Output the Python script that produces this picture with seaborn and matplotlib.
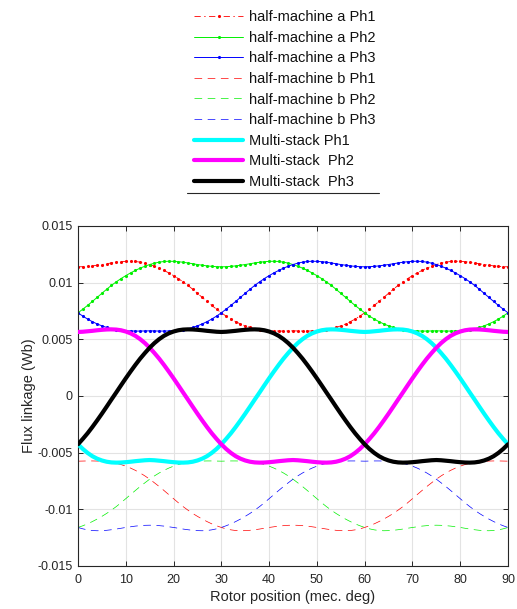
import numpy as np
import matplotlib
matplotlib.use("Agg")
import matplotlib.pyplot as plt
import seaborn as sns
from matplotlib.lines import Line2D

# ---------------- data ----------------
rotor_deg = np.arange(0, 91, 1)

half_a_ph1 = [
    0.01140, 0.01141, 0.01144, 0.01148, 0.01154, 0.01160, 0.01167, 0.01174, 0.01180, 0.01185,
    0.01188, 0.01189, 0.01187, 0.01181, 0.01172, 0.01160, 0.01145, 0.01128, 0.01108, 0.01086,
    0.01062, 0.01036, 0.01007, 0.00976, 0.00942, 0.00906, 0.00870, 0.00834, 0.00799, 0.00766,
    0.00734, 0.00705, 0.00679, 0.00656, 0.00636, 0.00619, 0.00605, 0.00594, 0.00586, 0.00580,
    0.00576, 0.00574, 0.00573, 0.00573, 0.00574, 0.00575, 0.00574, 0.00573, 0.00573, 0.00574,
    0.00576, 0.00580, 0.00586, 0.00594, 0.00605, 0.00619, 0.00636, 0.00656, 0.00679, 0.00705,
    0.00734, 0.00766, 0.00799, 0.00834, 0.00870, 0.00906, 0.00942, 0.00976, 0.01007, 0.01036,
    0.01062, 0.01086, 0.01108, 0.01128, 0.01145, 0.01160, 0.01172, 0.01181, 0.01187, 0.01189,
    0.01188, 0.01185, 0.01180, 0.01174, 0.01167, 0.01160, 0.01154, 0.01148, 0.01144, 0.01141,
    0.01140]

half_a_ph2 = [
    0.00734, 0.00766, 0.00799, 0.00834, 0.00870, 0.00906, 0.00942, 0.00976, 0.01007, 0.01036,
    0.01062, 0.01086, 0.01108, 0.01128, 0.01145, 0.01160, 0.01172, 0.01181, 0.01187, 0.01189,
    0.01188, 0.01185, 0.01180, 0.01174, 0.01167, 0.01160, 0.01154, 0.01148, 0.01144, 0.01141,
    0.01140, 0.01141, 0.01144, 0.01148, 0.01154, 0.01160, 0.01167, 0.01174, 0.01180, 0.01185,
    0.01188, 0.01189, 0.01187, 0.01181, 0.01172, 0.01160, 0.01145, 0.01128, 0.01108, 0.01086,
    0.01062, 0.01036, 0.01007, 0.00976, 0.00942, 0.00906, 0.00870, 0.00834, 0.00799, 0.00766,
    0.00734, 0.00705, 0.00679, 0.00656, 0.00636, 0.00619, 0.00605, 0.00594, 0.00586, 0.00580,
    0.00576, 0.00574, 0.00573, 0.00573, 0.00574, 0.00575, 0.00574, 0.00573, 0.00573, 0.00574,
    0.00576, 0.00580, 0.00586, 0.00594, 0.00605, 0.00619, 0.00636, 0.00656, 0.00679, 0.00705,
    0.00734]

half_a_ph3 = [
    0.00734, 0.00705, 0.00679, 0.00656, 0.00636, 0.00619, 0.00605, 0.00594, 0.00586, 0.00580,
    0.00576, 0.00574, 0.00573, 0.00573, 0.00574, 0.00575, 0.00574, 0.00573, 0.00573, 0.00574,
    0.00576, 0.00580, 0.00586, 0.00594, 0.00605, 0.00619, 0.00636, 0.00656, 0.00679, 0.00705,
    0.00734, 0.00766, 0.00799, 0.00834, 0.00870, 0.00906, 0.00942, 0.00976, 0.01007, 0.01036,
    0.01062, 0.01086, 0.01108, 0.01128, 0.01145, 0.01160, 0.01172, 0.01181, 0.01187, 0.01189,
    0.01188, 0.01185, 0.01180, 0.01174, 0.01167, 0.01160, 0.01154, 0.01148, 0.01144, 0.01141,
    0.01140, 0.01141, 0.01144, 0.01148, 0.01154, 0.01160, 0.01167, 0.01174, 0.01180, 0.01185,
    0.01188, 0.01189, 0.01187, 0.01181, 0.01172, 0.01160, 0.01145, 0.01128, 0.01108, 0.01086,
    0.01062, 0.01036, 0.01007, 0.00976, 0.00942, 0.00906, 0.00870, 0.00834, 0.00799, 0.00766,
    0.00734]

half_b_ph1 = [
    -0.00575, -0.00574, -0.00573, -0.00573, -0.00574, -0.00576, -0.00580, -0.00586, -0.00594, -0.00605,
    -0.00619, -0.00636, -0.00656, -0.00679, -0.00705, -0.00734, -0.00766, -0.00799, -0.00834, -0.00870,
    -0.00906, -0.00942, -0.00976, -0.01007, -0.01036, -0.01062, -0.01086, -0.01108, -0.01128, -0.01145,
    -0.01160, -0.01172, -0.01181, -0.01187, -0.01189, -0.01188, -0.01185, -0.01180, -0.01174, -0.01167,
    -0.01160, -0.01154, -0.01148, -0.01144, -0.01141, -0.01140, -0.01141, -0.01144, -0.01148, -0.01154,
    -0.01160, -0.01167, -0.01174, -0.01180, -0.01185, -0.01188, -0.01189, -0.01187, -0.01181, -0.01172,
    -0.01160, -0.01145, -0.01128, -0.01108, -0.01086, -0.01062, -0.01036, -0.01007, -0.00976, -0.00942,
    -0.00906, -0.00870, -0.00834, -0.00799, -0.00766, -0.00734, -0.00705, -0.00679, -0.00656, -0.00636,
    -0.00619, -0.00605, -0.00594, -0.00586, -0.00580, -0.00576, -0.00574, -0.00573, -0.00573, -0.00574,
    -0.00575]

half_b_ph2 = [
    -0.01160, -0.01145, -0.01128, -0.01108, -0.01086, -0.01062, -0.01036, -0.01007, -0.00976, -0.00942,
    -0.00906, -0.00870, -0.00834, -0.00799, -0.00766, -0.00734, -0.00705, -0.00679, -0.00656, -0.00636,
    -0.00619, -0.00605, -0.00594, -0.00586, -0.00580, -0.00576, -0.00574, -0.00573, -0.00573, -0.00574,
    -0.00575, -0.00574, -0.00573, -0.00573, -0.00574, -0.00576, -0.00580, -0.00586, -0.00594, -0.00605,
    -0.00619, -0.00636, -0.00656, -0.00679, -0.00705, -0.00734, -0.00766, -0.00799, -0.00834, -0.00870,
    -0.00906, -0.00942, -0.00976, -0.01007, -0.01036, -0.01062, -0.01086, -0.01108, -0.01128, -0.01145,
    -0.01160, -0.01172, -0.01181, -0.01187, -0.01189, -0.01188, -0.01185, -0.01180, -0.01174, -0.01167,
    -0.01160, -0.01154, -0.01148, -0.01144, -0.01141, -0.01140, -0.01141, -0.01144, -0.01148, -0.01154,
    -0.01160, -0.01167, -0.01174, -0.01180, -0.01185, -0.01188, -0.01189, -0.01187, -0.01181, -0.01172,
    -0.01160]

half_b_ph3 = [
    -0.01160, -0.01172, -0.01181, -0.01187, -0.01189, -0.01188, -0.01185, -0.01180, -0.01174, -0.01167,
    -0.01160, -0.01154, -0.01148, -0.01144, -0.01141, -0.01140, -0.01141, -0.01144, -0.01148, -0.01154,
    -0.01160, -0.01167, -0.01174, -0.01180, -0.01185, -0.01188, -0.01189, -0.01187, -0.01181, -0.01172,
    -0.01160, -0.01145, -0.01128, -0.01108, -0.01086, -0.01062, -0.01036, -0.01007, -0.00976, -0.00942,
    -0.00906, -0.00870, -0.00834, -0.00799, -0.00766, -0.00734, -0.00705, -0.00679, -0.00656, -0.00636,
    -0.00619, -0.00605, -0.00594, -0.00586, -0.00580, -0.00576, -0.00574, -0.00573, -0.00573, -0.00574,
    -0.00575, -0.00574, -0.00573, -0.00573, -0.00574, -0.00576, -0.00580, -0.00586, -0.00594, -0.00605,
    -0.00619, -0.00636, -0.00656, -0.00679, -0.00705, -0.00734, -0.00766, -0.00799, -0.00834, -0.00870,
    -0.00906, -0.00942, -0.00976, -0.01007, -0.01036, -0.01062, -0.01086, -0.01108, -0.01128, -0.01145,
    -0.01160]

multi_ph1 = [
    -0.00426, -0.00467, -0.00502, -0.00531, -0.00553, -0.00569, -0.00580, -0.00586, -0.00588, -0.00587,
    -0.00584, -0.00580, -0.00575, -0.00571, -0.00567, -0.00565, -0.00567, -0.00571, -0.00575, -0.00580,
    -0.00584, -0.00587, -0.00588, -0.00586, -0.00580, -0.00569, -0.00553, -0.00531, -0.00502, -0.00467,
    -0.00426, -0.00379, -0.00329, -0.00274, -0.00216, -0.00156, -0.00094, -0.00031, 0.00031, 0.00094,
    0.00156, 0.00216, 0.00274, 0.00329, 0.00379, 0.00426, 0.00467, 0.00502, 0.00531, 0.00553,
    0.00569, 0.00580, 0.00586, 0.00588, 0.00587, 0.00584, 0.00580, 0.00575, 0.00571, 0.00567,
    0.00565, 0.00567, 0.00571, 0.00575, 0.00580, 0.00584, 0.00587, 0.00588, 0.00586, 0.00580,
    0.00569, 0.00553, 0.00531, 0.00502, 0.00467, 0.00426, 0.00379, 0.00329, 0.00274, 0.00216,
    0.00156, 0.00094, 0.00031, -0.00031, -0.00094, -0.00156, -0.00216, -0.00274, -0.00329, -0.00379,
    -0.00426]

multi_ph2 = [
    0.00565, 0.00567, 0.00571, 0.00575, 0.00580, 0.00584, 0.00587, 0.00588, 0.00586, 0.00580,
    0.00569, 0.00553, 0.00531, 0.00502, 0.00467, 0.00426, 0.00379, 0.00329, 0.00274, 0.00216,
    0.00156, 0.00094, 0.00031, -0.00031, -0.00094, -0.00156, -0.00216, -0.00274, -0.00329, -0.00379,
    -0.00426, -0.00467, -0.00502, -0.00531, -0.00553, -0.00569, -0.00580, -0.00586, -0.00588, -0.00587,
    -0.00584, -0.00580, -0.00575, -0.00571, -0.00567, -0.00565, -0.00567, -0.00571, -0.00575, -0.00580,
    -0.00584, -0.00587, -0.00588, -0.00586, -0.00580, -0.00569, -0.00553, -0.00531, -0.00502, -0.00467,
    -0.00426, -0.00379, -0.00329, -0.00274, -0.00216, -0.00156, -0.00094, -0.00031, 0.00031, 0.00094,
    0.00156, 0.00216, 0.00274, 0.00329, 0.00379, 0.00426, 0.00467, 0.00502, 0.00531, 0.00553,
    0.00569, 0.00580, 0.00586, 0.00588, 0.00587, 0.00584, 0.00580, 0.00575, 0.00571, 0.00567,
    0.00565]

multi_ph3 = [
    -0.00426, -0.00379, -0.00329, -0.00274, -0.00216, -0.00156, -0.00094, -0.00031, 0.00031, 0.00094,
    0.00156, 0.00216, 0.00274, 0.00329, 0.00379, 0.00426, 0.00467, 0.00502, 0.00531, 0.00553,
    0.00569, 0.00580, 0.00586, 0.00588, 0.00587, 0.00584, 0.00580, 0.00575, 0.00571, 0.00567,
    0.00565, 0.00567, 0.00571, 0.00575, 0.00580, 0.00584, 0.00587, 0.00588, 0.00586, 0.00580,
    0.00569, 0.00553, 0.00531, 0.00502, 0.00467, 0.00426, 0.00379, 0.00329, 0.00274, 0.00216,
    0.00156, 0.00094, 0.00031, -0.00031, -0.00094, -0.00156, -0.00216, -0.00274, -0.00329, -0.00379,
    -0.00426, -0.00467, -0.00502, -0.00531, -0.00553, -0.00569, -0.00580, -0.00586, -0.00588, -0.00587,
    -0.00584, -0.00580, -0.00575, -0.00571, -0.00567, -0.00565, -0.00567, -0.00571, -0.00575, -0.00580,
    -0.00584, -0.00587, -0.00588, -0.00586, -0.00580, -0.00569, -0.00553, -0.00531, -0.00502, -0.00467,
    -0.00426]

series_labels = [
    "half-machine a Ph1", "half-machine a Ph2", "half-machine a Ph3",
    "half-machine b Ph1", "half-machine b Ph2", "half-machine b Ph3",
    "Multi-stack Ph1", "Multi-stack  Ph2", "Multi-stack  Ph3",
]
x_ticks = [0, 10, 20, 30, 40, 50, 60, 70, 80, 90]
y_ticks = [-0.015, -0.01, -0.005, 0, 0.005, 0.01, 0.015]
y_tick_labels = ["-0.015", "-0.01", "-0.005", "0", "0.005", "0.01", "0.015"]

# ---------------- style ----------------
sns.set_theme(style="ticks")
plt.rcParams['font.family'] = ['Liberation Sans', 'DejaVu Sans']
plt.rcParams['lines.scale_dashes'] = False

AX_COLOR = "#262626"

fig = plt.figure(figsize=(5.17, 6.09), dpi=100)
ax = fig.add_axes([78 / 517, 1 - 566 / 609, 430 / 517, 340 / 609])

all_series = [half_a_ph1, half_a_ph2, half_a_ph3,
              half_b_ph1, half_b_ph2, half_b_ph3,
              multi_ph1, multi_ph2, multi_ph3]

styles = [
    dict(color="#ff0000", lw=0.6, ls=(0, (4.5, 2.5, 1, 2.5)), marker="."),
    dict(color="#00f000", lw=0.7, ls="-", marker="."),
    dict(color="#0000ff", lw=0.7, ls="-", marker="."),
    dict(color="#ff0000", lw=0.5, ls=(0, (5.5, 4)), marker=None),
    dict(color="#00f000", lw=0.5, ls=(0, (5.5, 4)), marker=None),
    dict(color="#0000ff", lw=0.5, ls=(0, (5.5, 4)), marker=None),
    dict(color="#00ffff", lw=3.0, ls="-", marker=None),
    dict(color="#ff00ff", lw=3.0, ls="-", marker=None),
    dict(color="#000000", lw=3.0, ls="-", marker=None),
]

for i, (vals, lab, st) in enumerate(zip(all_series, series_labels, styles)):
    kw = dict(x=rotor_deg, y=vals, ax=ax, color=st["color"], linewidth=st["lw"],
              linestyle=st["ls"], label=lab, zorder=2 + i * 0.1)
    if st["marker"]:
        kw.update(marker=st["marker"], markersize=4.5,
                  markeredgecolor=st["color"], markeredgewidth=0)
    sns.lineplot(**kw)

ax.set_xlim(0, 90)
ax.set_ylim(-0.015, 0.015)
ax.set_xticks(x_ticks)
ax.set_xticklabels([str(t) for t in x_ticks])
ax.set_yticks(y_ticks)
ax.set_yticklabels(y_tick_labels)

ax.grid(True, color="#e3e3e3", linewidth=0.8)
ax.set_axisbelow(True)
for sp in ax.spines.values():
    sp.set_visible(True)
    sp.set_color(AX_COLOR)
    sp.set_linewidth(0.8)
ax.tick_params(axis="both", direction="in", length=3.5, width=0.7,
               colors=AX_COLOR, labelsize=9, top=True, right=True)
ax.tick_params(axis="x", pad=6)
ax.tick_params(axis="y", pad=4)

ax.set_xlabel("Rotor position (mec. deg)", fontsize=10.5, color=AX_COLOR)
ax.set_ylabel("Flux linkage (Wb)", fontsize=10.5, color=AX_COLOR)
ax.xaxis.set_label_coords(0.5, -0.07)
ax.yaxis.set_label_coords(-0.098, 0.5)

handles, labels = ax.get_legend_handles_labels()
if ax.get_legend() is not None:
    ax.get_legend().remove()
leg = fig.legend(handles, labels, loc="center",
                 bbox_to_anchor=(284.5 / 517, 1 - 99.5 / 609),
                 frameon=False, fontsize=10.5, handlelength=3.4,
                 handletextpad=0.35, labelspacing=0.45, borderpad=0,
                 borderaxespad=0)
for t in leg.get_texts():
    t.set_color("#111111")

fig.add_artist(Line2D([187 / 517, 379 / 517], [1 - 193 / 609, 1 - 193 / 609],
                      color=AX_COLOR, linewidth=0.8, transform=fig.transFigure))

fig.savefig("out.png", dpi=100)
